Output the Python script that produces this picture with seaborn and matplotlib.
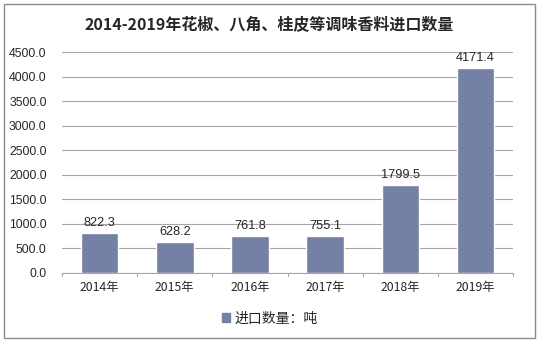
import matplotlib
matplotlib.use("Agg")
import matplotlib.pyplot as plt
import seaborn as sns
import pandas as pd
from matplotlib.patches import Rectangle

years = ["2014年", "2015年", "2016年", "2017年", "2018年", "2019年"]
volumes = [822.3, 628.2, 761.8, 755.1, 1799.5, 4171.4]
y_ticks = [0, 500, 1000, 1500, 2000, 2500, 3000, 3500, 4000, 4500]
title = "2014-2019年花椒、八角、桂皮等调味香料进口数量"
series_name = "进口数量：吨"

sns.set_theme(style="white")
plt.rcParams["font.family"] = ["Noto Sans CJK SC", "DejaVu Sans"]

df = pd.DataFrame({"year": years, "volume": volumes})
bar_color = "#7480A4"

fig = plt.figure(figsize=(5.39, 3.42), dpi=100)
ax = fig.add_axes([0.115, 0.2018, 0.837, 0.646])

sns.barplot(data=df, x="year", y="volume", color=bar_color, width=0.5,
            saturation=1, ax=ax)

ax.set_ylim(0, 4500)
ax.set_yticks(y_ticks)
ax.set_yticklabels([f"{v:.1f}" for v in y_ticks], fontsize=8.8,
                   family=["Liberation Sans", "DejaVu Sans"])
ax.set_xlim(-0.5, len(years) - 0.5)
ax.set_xticks(range(len(years)))
ax.set_xticklabels(years, fontsize=8.8)
ax.yaxis.grid(True, color="#A6A6A6", linewidth=0.8)
ax.set_axisbelow(True)
ax.set_xlabel("")
ax.set_ylabel("")
for s in ["top", "right", "left"]:
    ax.spines[s].set_visible(False)
ax.spines["bottom"].set_color("#A6A6A6")
ax.spines["bottom"].set_linewidth(0.8)
ax.tick_params(axis="y", length=0, pad=11, colors="#262626")
ax.tick_params(axis="x", length=0, pad=6, colors="#262626")
# boundary tick marks between categories
for b in [i - 0.5 for i in range(len(years) + 1)]:
    ax.plot([b, b], [0, -0.012], transform=ax.get_xaxis_transform(),
            color="#A6A6A6", linewidth=0.8, clip_on=False)

for i, v in enumerate(volumes):
    ax.text(i, v + 80, f"{v:.1f}", ha="center", va="bottom", fontsize=9.2,
            family=["Liberation Sans", "DejaVu Sans"], color="#262626")

fig.text(0.5, 0.928, title, ha="center", va="center", fontsize=11.5,
         fontweight="bold", color="#262626")

fig.legend(handles=[Rectangle((0, 0), 1, 1, color=bar_color)],
           labels=[series_name], loc="center", bbox_to_anchor=(0.5, 0.068),
           frameon=False, fontsize=10, handlelength=0.6, handleheight=0.6,
           handletextpad=0.3)

fig.patches.append(Rectangle((0.008, 0.012), 0.984, 0.976, transform=fig.transFigure,
                             fill=False, edgecolor="#8C8C8C", linewidth=1))

fig.savefig("out.png", dpi=100)
